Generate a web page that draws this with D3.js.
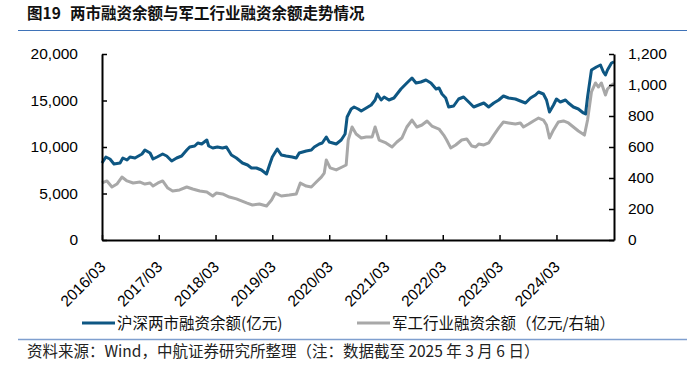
<!DOCTYPE html>
<html lang="zh">
<head>
<meta charset="UTF-8">
<title>两市融资余额与军工行业融资余额走势情况</title>
<style>
    body { margin: 0; background: #fff; }
    svg { display: block; }
    .cn { font-family: "Noto Sans CJK SC", sans-serif; }
    .num { font-family: "Liberation Sans", Arial, sans-serif; }
</style>
</head>
<body>
<svg id="chart" width="700" height="373"></svg>
<script src="https://cdnjs.cloudflare.com/ajax/libs/d3/7.8.5/d3.min.js"></script>
<script>
// 沪深两市融资余额 (亿元, left axis)
const marketDates = [
    "2016-03-01","2016-03-26","2016-04-21","2016-05-17","2016-06-25","2016-07-13","2016-08-09","2016-08-28",
    "2016-09-29","2016-11-13","2016-12-02","2017-01-04","2017-01-23","2017-02-18","2017-03-26","2017-04-21",
    "2017-05-23","2017-06-24","2017-07-26","2017-08-28","2017-09-16","2017-10-18","2017-11-07","2017-12-02",
    "2018-01-04","2018-01-16","2018-02-11","2018-03-13","2018-04-15","2018-05-10","2018-06-11","2018-07-13",
    "2018-08-21","2018-09-23","2018-10-18","2018-11-19","2018-12-21","2019-01-23","2019-02-11","2019-03-01",
    "2019-04-02","2019-04-28","2019-05-29","2019-07-07","2019-08-02","2019-08-21","2019-10-05","2019-11-07",
    "2019-11-26","2019-12-28","2020-01-16","2020-02-11","2020-03-01","2020-04-15","2020-05-17","2020-06-11",
    "2020-06-24","2020-07-20","2020-08-08","2020-09-03","2020-09-23","2020-10-25","2020-11-26","2020-12-21",
    "2021-01-04","2021-01-29","2021-02-17","2021-03-20","2021-04-21","2021-06-05","2021-07-13","2021-08-15",
    "2021-09-10","2021-10-11","2021-11-13","2021-12-15","2022-01-17","2022-02-05","2022-02-24","2022-03-20",
    "2022-04-08","2022-05-10","2022-06-11","2022-07-13","2022-08-15","2022-09-16","2022-10-18","2022-11-20",
    "2022-12-21","2023-01-23","2023-02-24","2023-03-26","2023-04-28","2023-06-11","2023-07-13","2023-08-15",
    "2023-09-16","2023-10-18","2023-11-07","2023-12-08","2023-12-28","2024-01-16","2024-02-11","2024-03-01",
    "2024-03-26","2024-04-28","2024-05-17","2024-06-18","2024-07-20","2024-08-21","2024-09-04","2024-09-17",
    "2024-10-12","2024-11-13","2024-12-09","2024-12-28","2025-01-10","2025-01-23","2025-02-18","2025-03-06"
];
const marketValues = [
    8280, 8925, 8710, 8172, 8280, 8817, 8602, 8925,
    8817, 9247, 9677, 9355, 8710, 8925, 9247, 9032,
    8495, 8817, 9032, 9677, 10000, 10108, 10430, 10323,
    10753, 10108, 9892, 10000, 9892, 10000, 9140, 8817,
    8280, 8065, 7742, 7742, 7527, 7097, 8065, 8925,
    9785, 9140, 9032, 8925, 8817, 9355, 9570, 9677,
    10000, 10323, 10430, 11075, 10538, 10323, 10753, 11398,
    13226, 14086, 14301, 14086, 13871, 14194, 14516, 15054,
    15699, 15054, 15376, 15054, 15269, 16237, 16882, 17419,
    16882, 16989, 17204, 16882, 16237, 16344, 15699, 15269,
    14301, 14409, 15161, 15376, 14839, 14301, 14516, 14731,
    14301, 14731, 15054, 15484, 15269, 15161, 14946, 14731,
    15269, 15591, 15914, 15699, 15054, 13763, 14516, 15161,
    14839, 15054, 14731, 14301, 14086, 13656, 13548, 15376,
    18280, 18602, 18817, 18065, 17742, 18280, 19032, 19150
];

// 军工行业融资余额 (亿元, right axis)
const defenseDates = [
    "2016-03-01","2016-04-02","2016-05-04","2016-06-05","2016-07-07","2016-08-09","2016-09-17","2016-11-01",
    "2016-12-02","2017-01-04","2017-01-23","2017-02-24","2017-03-26","2017-04-28","2017-05-29","2017-07-13",
    "2017-08-28","2017-10-05","2017-11-20","2018-01-04","2018-02-11","2018-03-07","2018-04-15","2018-05-29",
    "2018-07-13","2018-09-16","2018-10-24","2018-12-08","2019-01-23","2019-02-24","2019-03-20","2019-04-28",
    "2019-06-18","2019-08-02","2019-08-28","2019-10-05","2019-11-07","2019-12-09","2020-01-10","2020-01-29",
    "2020-02-11","2020-03-07","2020-04-15","2020-05-23","2020-06-18","2020-07-01","2020-07-26","2020-08-21",
    "2020-09-23","2020-10-25","2020-12-02","2020-12-21","2021-01-16","2021-03-01","2021-04-09","2021-05-10",
    "2021-06-11","2021-07-13","2021-08-15","2021-09-16","2021-10-18","2021-11-20","2021-12-21","2022-02-05",
    "2022-03-07","2022-03-26","2022-04-21","2022-05-23","2022-07-01","2022-08-02","2022-09-04","2022-09-29",
    "2022-10-18","2022-11-20","2022-12-21","2023-01-23","2023-02-24","2023-03-26","2023-04-28","2023-06-11",
    "2023-07-13","2023-08-02","2023-09-04","2023-10-05","2023-11-07","2023-12-08","2023-12-28","2024-01-16",
    "2024-02-11","2024-03-13","2024-04-15","2024-05-17","2024-06-18","2024-07-20","2024-08-28","2024-09-17",
    "2024-10-12","2024-11-07","2024-11-26","2024-12-15","2025-01-10","2025-01-23","2025-02-18","2025-03-06"
];
const defenseValues = [
    368, 381, 342, 361, 406, 381, 368, 374,
    361, 368, 348, 368, 381, 335, 316, 323,
    342, 329, 316, 310, 284, 303, 297, 277,
    265, 239, 226, 232, 219, 258, 303, 284,
    290, 297, 368, 348, 342, 374, 406, 432,
    516, 465, 452, 471, 484, 645, 729, 684,
    658, 665, 665, 729, 645, 626, 600, 632,
    658, 729, 774, 729, 742, 768, 735, 716,
    677, 645, 594, 613, 645, 652, 606, 600,
    619, 613, 626, 677, 723, 761, 755, 748,
    755, 729, 748, 768, 787, 774, 742, 658,
    710, 761, 768, 755, 729, 703, 677, 774,
    955, 1013, 987, 1013, 935, 974, 1000, 1010
];

const yearTicks = ["2016-03-01","2017-03-01","2018-03-01","2019-03-01","2020-03-01",
                   "2021-03-01","2022-03-01","2023-03-01","2024-03-01"];
const leftTicks = [0, 5000, 10000, 15000, 20000];
const rightTicks = [0, 200, 400, 600, 800, 1000, 1200];

const titleNo = "图19";
const titleText = "两市融资余额与军工行业融资余额走势情况";
const legendLabels = ["沪深两市融资余额(亿元)", "军工行业融资余额（亿元/右轴）"];
const sourceText = "资料来源：Wind，中航证券研究所整理（注：数据截至 2025 年 3 月 6 日）";

const blue = "#0e5783";
const grey = "#a8a8a8";
const parse = d3.timeParse("%Y-%m-%d");

const svg = d3.select("#chart");

// title and rules
svg.append("text").attr("class", "cn")
    .attr("x", 27).attr("y", 19)
    .attr("font-size", 15.5).attr("font-weight", "bold").attr("fill", "#111")
    .text(titleNo);
svg.append("text").attr("class", "cn")
    .attr("x", 70).attr("y", 19)
    .attr("font-size", 15.5).attr("font-weight", "bold").attr("fill", "#111")
    .text(titleText);
svg.append("line").attr("x1", 18).attr("x2", 687).attr("y1", 30.5).attr("y2", 30.5)
    .attr("stroke", "#3f73b8").attr("stroke-width", 1.2);

const x = d3.scaleTime()
    .domain([parse("2016-03-01"), parse("2025-03-06")])
    .range([102, 614]);
const yL = d3.scaleLinear().domain([0, 20000]).range([240, 54]);
const yR = d3.scaleLinear().domain([0, 1200]).range([240, 54]);

// lines
const market = marketDates.map((d, i) => ({ date: parse(d), v: marketValues[i] }));
const defense = defenseDates.map((d, i) => ({ date: parse(d), v: defenseValues[i] }));

svg.append("path").datum(defense)
    .attr("fill", "none").attr("stroke", grey).attr("stroke-width", 3)
    .attr("stroke-linejoin", "round")
    .attr("d", d3.line().x(d => x(d.date)).y(d => yR(d.v)));

svg.append("path").datum(market)
    .attr("fill", "none").attr("stroke", blue).attr("stroke-width", 3)
    .attr("stroke-linejoin", "round")
    .attr("d", d3.line().x(d => x(d.date)).y(d => yL(d.v)));

// axes
const fmt = d3.format(",");
const axL = svg.append("g").attr("transform", "translate(102,0)")
    .call(d3.axisLeft(yL).tickValues(leftTicks).tickFormat(fmt)
        .tickSizeInner(-5).tickSizeOuter(0).tickPadding(24));
const axR = svg.append("g").attr("transform", "translate(614,0)")
    .call(d3.axisRight(yR).tickValues(rightTicks).tickFormat(fmt)
        .tickSizeInner(-5).tickSizeOuter(0).tickPadding(14));
const axB = svg.append("g").attr("transform", "translate(0,240)")
    .call(d3.axisBottom(x).tickValues(yearTicks.map(parse)).tickFormat(d3.timeFormat("%Y/%m"))
        .tickSizeInner(-5).tickSizeOuter(0));

[axL, axR, axB].forEach(a => {
    a.select(".domain").attr("stroke", "#000").attr("stroke-width", 2);
    a.selectAll(".tick line").attr("stroke", "#000").attr("stroke-width", 1.5);
    a.selectAll("text").attr("class", "num").attr("font-size", 15.5).attr("fill", "#000");
});

axB.selectAll("text")
    .attr("font-size", 15.5)
    .attr("text-anchor", "end")
    .attr("y", 0).attr("dy", 0)
    .attr("transform", "translate(4,28) rotate(-45)");

// legend
const legend = svg.append("g");
[[82, blue], [357, grey]].forEach((p, i) => {
    legend.append("line").attr("x1", p[0]).attr("x2", p[0] + 33)
        .attr("y1", 323).attr("y2", 323)
        .attr("stroke", p[1]).attr("stroke-width", 3);
    legend.append("text").attr("class", "cn")
        .attr("x", p[0] + 35).attr("y", 329)
        .attr("font-size", 15.5).attr("fill", "#111")
        .text(legendLabels[i]);
});

svg.append("line").attr("x1", 18).attr("x2", 687).attr("y1", 339.5).attr("y2", 339.5)
    .attr("stroke", "#7f9fcf").attr("stroke-width", 1.5);

svg.append("text").attr("class", "cn")
    .attr("x", 27).attr("y", 357)
    .attr("font-size", 15.5).attr("fill", "#222")
    .text(sourceText);
</script>
</body>
</html>
